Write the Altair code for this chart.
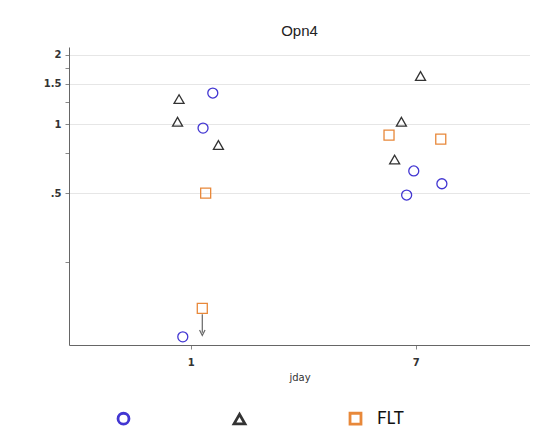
import altair as alt
import pandas as pd

groups = ["GC", "VIV", "FLT"]
circ_x = [1.59, 1.33, 0.79, 6.95, 7.70, 6.76]
circ_y = [1.365, 0.96, 0.118, 0.624, 0.549, 0.49]
tri_x = [0.69, 0.65, 1.74, 7.13, 6.62, 6.44]
tri_y = [1.285, 1.023, 0.81, 1.62, 1.023, 0.70]
sq_x = [1.40, 1.31, 6.29, 7.67]
sq_y = [0.50, 0.157, 0.895, 0.86]
arrow_x = [1.31]
arrow_from = [0.148]
arrow_to = [0.123]
y_ticks = [0.25, 0.5, 0.75, 1, 1.25, 1.5, 1.75, 2]
x_ticks = [1, 7]

rows = []
for g, xs, ys in [("GC", circ_x, circ_y), ("VIV", tri_x, tri_y), ("FLT", sq_x, sq_y)]:
    for x, y in zip(xs, ys):
        rows.append({"group": g, "jday": x, "val": y})
df = pd.DataFrame(rows)
arrow_df = pd.DataFrame({"jday": arrow_x, "y1": arrow_from, "y2": arrow_to})

xscale = alt.Scale(domain=[-2.245, 10.05], nice=False, zero=False)
yscale = alt.Scale(type="log", base=2, domain=[0.1087, 2.167], nice=False)

legend = alt.Legend(
    orient="none", legendX=46, legendY=363, direction="horizontal", title=None,
    labelExpr="datum.label == 'FLT' ? 'FLT' : ''",
    symbolStrokeWidth=2.8, symbolSize=120, columnPadding=83,
    labelFontSize=17, labelFont="Lato", labelColor="#111", labelOffset=13,
)

xaxis = alt.Axis(values=x_ticks, format="d", title="jday", titleFontSize=10,
                 titleFont="DejaVu Sans", titleFontWeight="normal", titleColor="#333",
                 labelFontSize=10, labelFont="DejaVu Sans", labelFontWeight="bold",
                 labelColor="#333", grid=False, tickSize=4, tickColor="#888",
                 domainColor="#666", labelPadding=8, titlePadding=5)
yaxis = alt.Axis(values=y_ticks, title=None,
                 labelExpr="datum.value == 2 ? '2' : datum.value == 1.5 ? '1.5' : datum.value == 1 ? '1' : datum.value == 0.5 ? '.5' : ''",
                 labelFontSize=10, labelFont="DejaVu Sans", labelFontWeight="bold",
                 labelColor="#333", tickSize=4, tickColor="#888", domainColor="#666",
                 labelPadding=4, grid=True, gridColor="#e6e6e6",
                 gridOpacity={"condition": {"test": "indexof([0.5, 1, 1.5, 2], datum.value) >= 0", "value": 1}, "value": 0})

points = alt.Chart(df).mark_point(filled=False, size=100, strokeWidth=1.3, opacity=1).encode(
    x=alt.X("jday:Q", scale=xscale, axis=xaxis),
    y=alt.Y("val:Q", scale=yscale, axis=yaxis),
    color=alt.Color("group:N", scale=alt.Scale(domain=groups, range=["#4236d2", "#333333", "#e8883a"]), legend=legend),
    shape=alt.Shape("group:N", scale=alt.Scale(domain=groups, range=["circle", "triangle-up", "square"]), legend=legend),
)

rule = alt.Chart(arrow_df).mark_rule(color="#666", strokeWidth=1.2).encode(
    x=alt.X("jday:Q", scale=xscale),
    y=alt.Y("y1:Q", scale=yscale),
    y2="y2:Q",
)
head = alt.Chart(arrow_df).mark_point(shape="M-1,-1L0,1L1,-1", filled=False, size=30,
                                       color="#666", strokeWidth=1.2, opacity=1).encode(
    x=alt.X("jday:Q", scale=xscale),
    y=alt.Y("y2:Q", scale=yscale),
)

chart = alt.layer(points, rule, head).properties(
    width=461, height=298,
    title=alt.TitleParams("Opn4", fontSize=15, font="Liberation Sans", fontWeight="normal",
                          anchor="middle", offset=8, color="#222"),
    autosize=alt.AutoSizeParams(type="none"),
    padding={"left": 61, "top": 39, "right": 0, "bottom": 84},
).configure_view(stroke=None)

chart.save("out.html", embed_options={"renderer": "svg", "actions": False})
